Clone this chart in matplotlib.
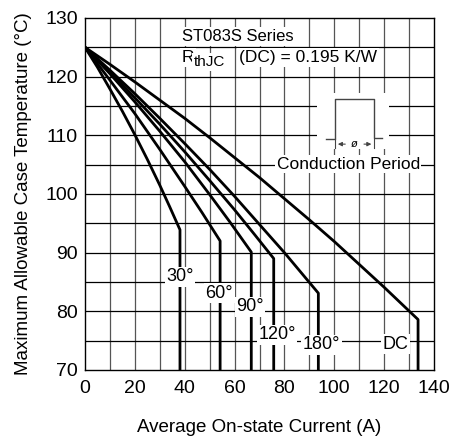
import matplotlib
matplotlib.use('Agg')
import matplotlib.pyplot as plt
from matplotlib.patches import Rectangle

plt.rcParams['font.family'] = ['Liberation Sans', 'DejaVu Sans']

# curve points (current A, case temp degC)
i_30 = [0, 5, 10, 15, 20, 25, 30, 34, 38.1, 38.1]
t_30 = [125, 121.6, 117.9, 114.1, 110.1, 105.9, 101.5, 97.8, 93.9, 70]
i_60 = [0, 10, 20, 30, 40, 47, 54.2, 54.2]
t_60 = [125, 119.4, 113.7, 107.6, 101.3, 96.8, 92.0, 70]
i_90 = [0, 10, 20, 30, 40, 50, 58, 66.7, 66.7]
t_90 = [125, 120.5, 115.7, 110.7, 105.5, 99.9, 95.3, 90.1, 70]
i_120 = [0, 10, 20, 30, 40, 50, 60, 68, 75.7, 75.7]
t_120 = [125, 120.8, 116.4, 111.9, 107.2, 102.3, 97.3, 93.1, 89.0, 70]
i_180 = [0, 10, 20, 30, 40, 50, 60, 70, 80, 93.6, 93.6]
t_180 = [125, 121.1, 117.1, 112.9, 108.6, 104.2, 99.6, 94.8, 90.0, 83.1, 70]
i_dc = [0, 10, 20, 30, 40, 50, 60, 70, 80, 90, 100, 110, 120, 133.6, 133.6]
t_dc = [125, 122.1, 119.1, 116.0, 112.9, 109.6, 106.2, 102.8, 99.2, 95.6, 91.9, 88.0, 84.1, 78.6, 70]

labels = ['30°', '60°', '90°', '120°', '180°', 'DC']
label_i = [38.0, 53.9, 66.2, 77.1, 94.9, 124.7]
label_t = [85.9, 83.1, 80.8, 76.0, 74.3, 74.4]

fig = plt.figure(figsize=(4.56, 4.40), dpi=100)
ax = fig.add_axes([0.1864, 0.1591, 0.7654, 0.8])

for v in range(10, 140, 10):
    ax.axvline(v, color='#555555', lw=0.9, zorder=1)
for h in range(75, 130, 5):
    ax.axhline(h, color='black', lw=0.9, zorder=1)

for xs, ys in [(i_30, t_30), (i_60, t_60), (i_90, t_90), (i_120, t_120), (i_180, t_180), (i_dc, t_dc)]:
    ax.plot(xs, ys, color='black', lw=2.0, zorder=3, solid_joinstyle='round')

for lab, x, y in zip(labels, label_i, label_t):
    ax.text(x, y, lab, ha='center', va='center', fontsize=13, zorder=5,
            bbox=dict(facecolor='white', edgecolor='none', pad=1))

wb = dict(facecolor='white', edgecolor='none', pad=1.5)
ax.text(38.8, 126.8, 'ST083S Series', ha='left', va='center', fontsize=12, zorder=5, bbox=wb)
ax.text(38.8, 123.3, 'R', ha='left', va='center', fontsize=12.5, zorder=5, bbox=wb)
ax.text(43.6, 122.5, 'thJC', ha='left', va='center', fontsize=11, zorder=5, bbox=wb)
ax.text(61.8, 123.3, '(DC) = 0.195 K/W', ha='left', va='center', fontsize=12.5, zorder=5, bbox=wb)

# conduction period inset
ax.add_patch(Rectangle((93, 107.6), 29, 9.6, facecolor='white', edgecolor='none', zorder=4))
ax.plot([96.7, 100.3, 100.3, 116, 116, 119], [109.3, 109.3, 116.2, 116.2, 109.5, 109.5],
        color='#444444', lw=1.0, zorder=5)
ax.plot([100.3, 100.3], [107.8, 109.3], color='#444444', lw=0.8, zorder=5)
ax.plot([116, 116], [107.8, 109.3], color='#444444', lw=0.8, zorder=5)
ax.annotate('', xy=(100.3, 108.5), xytext=(105.5, 108.5), zorder=5,
            arrowprops=dict(arrowstyle='-|>', color='#444444', lw=0.8, mutation_scale=6))
ax.annotate('', xy=(116, 108.5), xytext=(110.8, 108.5), zorder=5,
            arrowprops=dict(arrowstyle='-|>', color='#444444', lw=0.8, mutation_scale=6))
ax.text(108.15, 108.5, 'ø', ha='center', va='center', fontsize=8, style='italic', zorder=5)
ax.text(105.6, 105.05, 'Conduction Period', ha='center', va='center', fontsize=12.5, zorder=5,
        bbox=dict(facecolor='white', edgecolor='none', pad=1))

ax.set_xlim(0, 140)
ax.set_ylim(70, 130)
ax.set_xticks(range(0, 141, 20))
ax.set_yticks(range(70, 131, 10))
ax.tick_params(length=0, labelsize=14)
ax.tick_params(axis='x', pad=7)
ax.tick_params(axis='y', pad=5)
for s in ax.spines.values():
    s.set_linewidth(1.0)
    s.set_zorder(6)

ax.set_xlabel('Average On-state Current (A)', fontsize=13.5, labelpad=16)
ax.set_ylabel('Maximum Allowable Case Temperature (°C)', fontsize=13.5, labelpad=10)

plt.savefig('out.png', dpi=100)
